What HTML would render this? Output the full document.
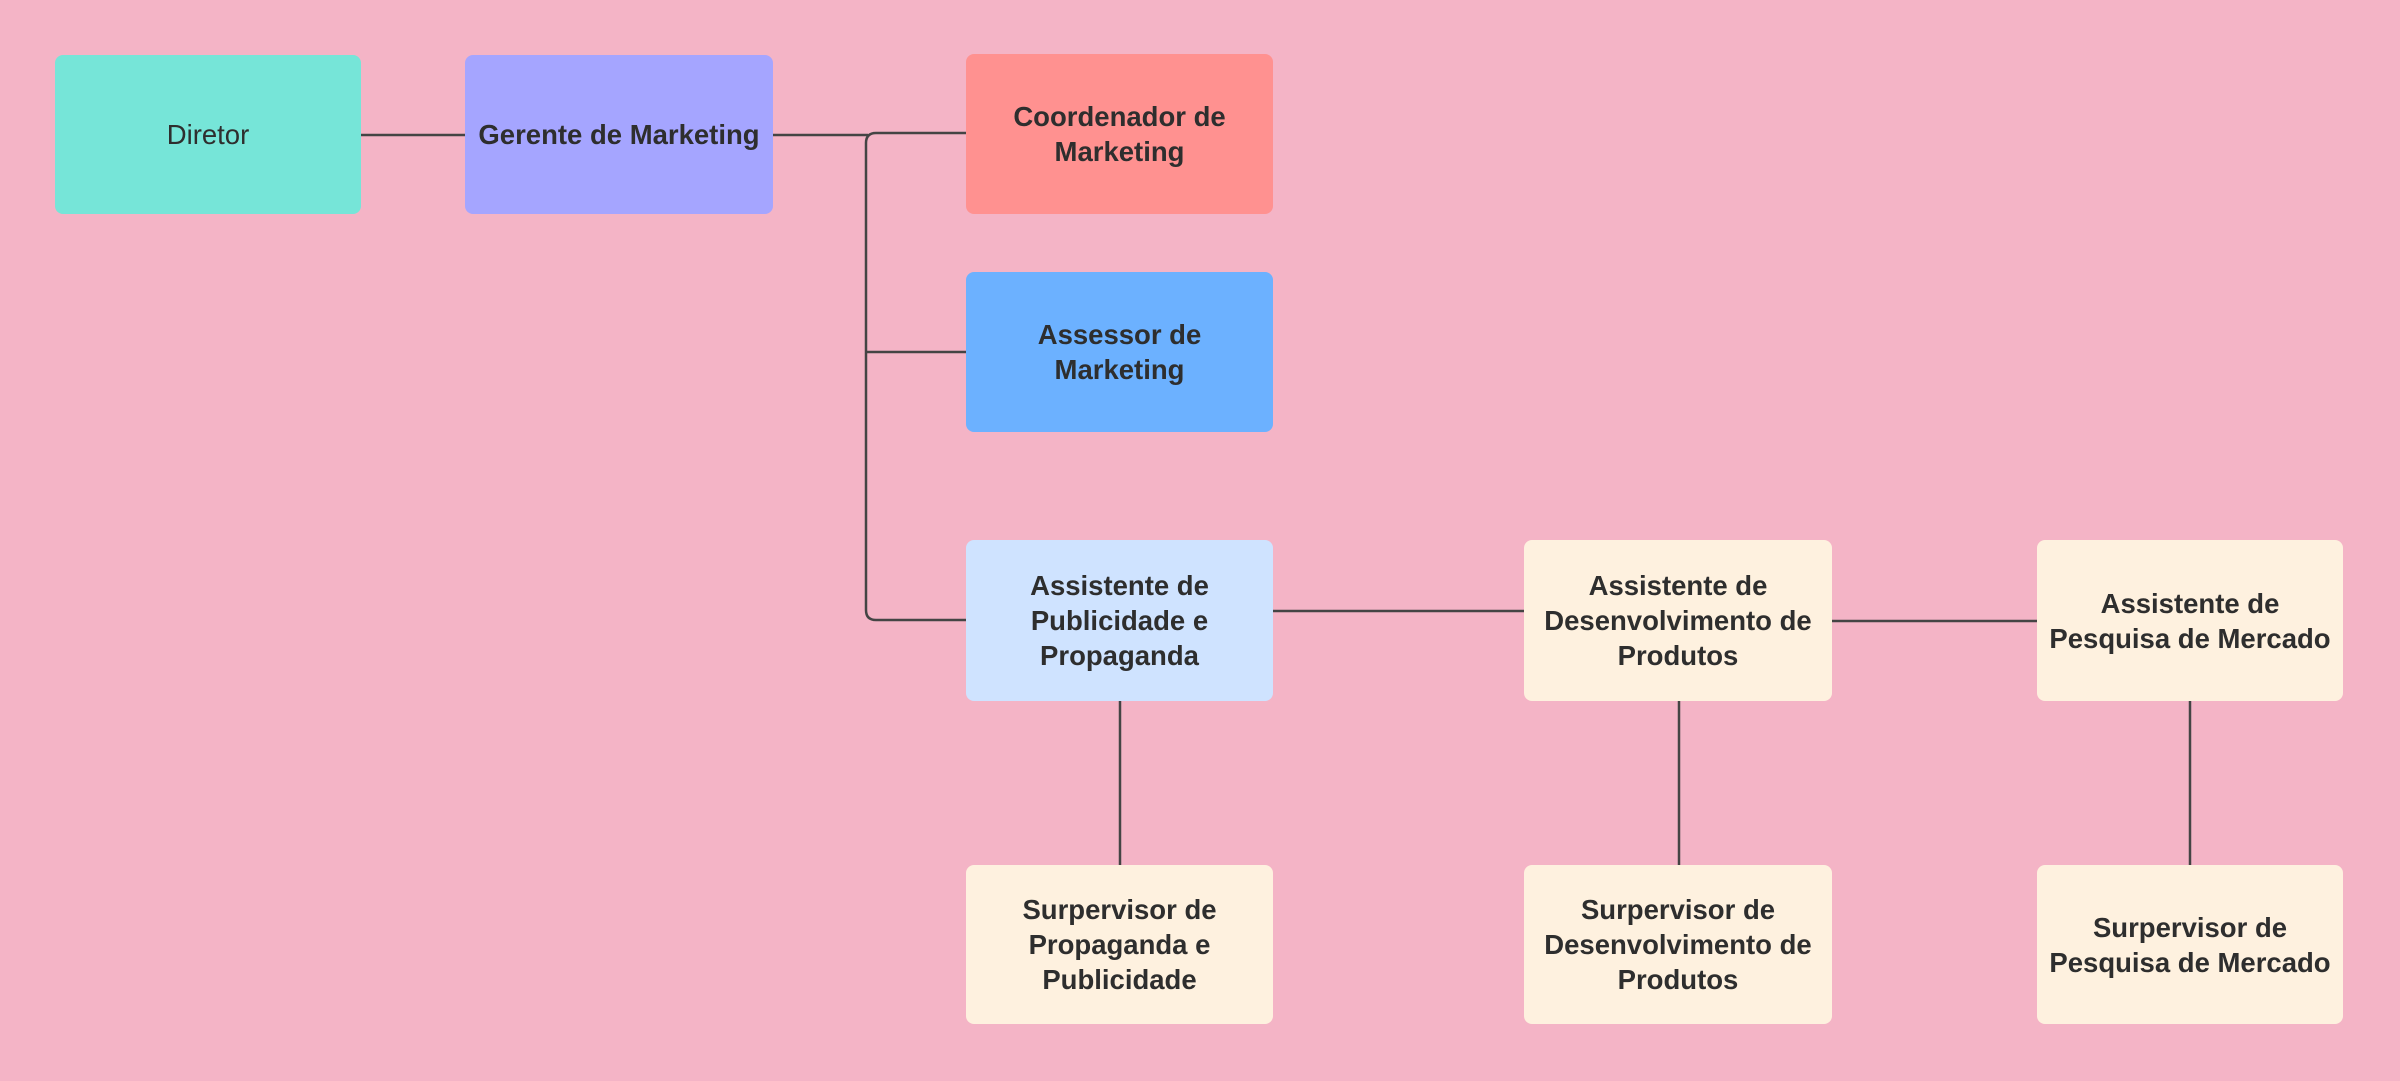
<!DOCTYPE html>
<html><head><style>
html,body{margin:0;padding:0}
body{width:2400px;height:1081px;background:#f4b4c6;position:relative;overflow:hidden;font-family:"Liberation Sans",sans-serif}
.n{position:absolute;border-radius:8px;display:flex;align-items:center;justify-content:center;text-align:center;font-weight:bold;font-size:27.5px;line-height:35px;color:#2e2e2e;box-sizing:border-box;padding:0 4px}
.c{background:#fef1df}
svg{position:absolute;left:0;top:0}
</style></head><body>
<svg width="2400" height="1081" fill="none" stroke="#444" stroke-width="2.5">
<line x1="361" y1="135" x2="465" y2="135"/>
<line x1="773" y1="135" x2="868" y2="135"/>
<path d="M966 133 H876 Q866 133 866 143 V610 Q866 620 876 620 H966"/>
<line x1="866" y1="352" x2="966" y2="352"/>
<line x1="1273" y1="611" x2="1524" y2="611"/>
<line x1="1832" y1="621" x2="2037" y2="621"/>
<line x1="1120" y1="701" x2="1120" y2="865"/>
<line x1="1679" y1="701" x2="1679" y2="865"/>
<line x1="2190" y1="701" x2="2190" y2="865"/>
</svg>
<div class="n" style="left:55px;top:55px;width:306px;height:159px;background:#76e5d8;font-weight:normal">Diretor</div>
<div class="n" style="left:465px;top:55px;width:308px;height:159px;background:#a5a5ff">Gerente de Marketing</div>
<div class="n" style="left:966px;top:54px;width:307px;height:160px;background:#ff9190">Coordenador de<br>Marketing</div>
<div class="n" style="left:966px;top:272px;width:307px;height:160px;background:#6cb1ff">Assessor de<br>Marketing</div>
<div class="n" style="left:966px;top:540px;width:307px;height:161px;background:#cfe3ff">Assistente de<br>Publicidade e<br>Propaganda</div>
<div class="n c" style="left:1524px;top:540px;width:308px;height:161px">Assistente de<br>Desenvolvimento de<br>Produtos</div>
<div class="n c" style="left:2037px;top:540px;width:306px;height:161px">Assistente de<br>Pesquisa de Mercado</div>
<div class="n c" style="left:966px;top:865px;width:307px;height:159px">Surpervisor de<br>Propaganda e<br>Publicidade</div>
<div class="n c" style="left:1524px;top:865px;width:308px;height:159px">Surpervisor de<br>Desenvolvimento de<br>Produtos</div>
<div class="n c" style="left:2037px;top:865px;width:306px;height:159px">Surpervisor de<br>Pesquisa de Mercado</div>
</body></html>
